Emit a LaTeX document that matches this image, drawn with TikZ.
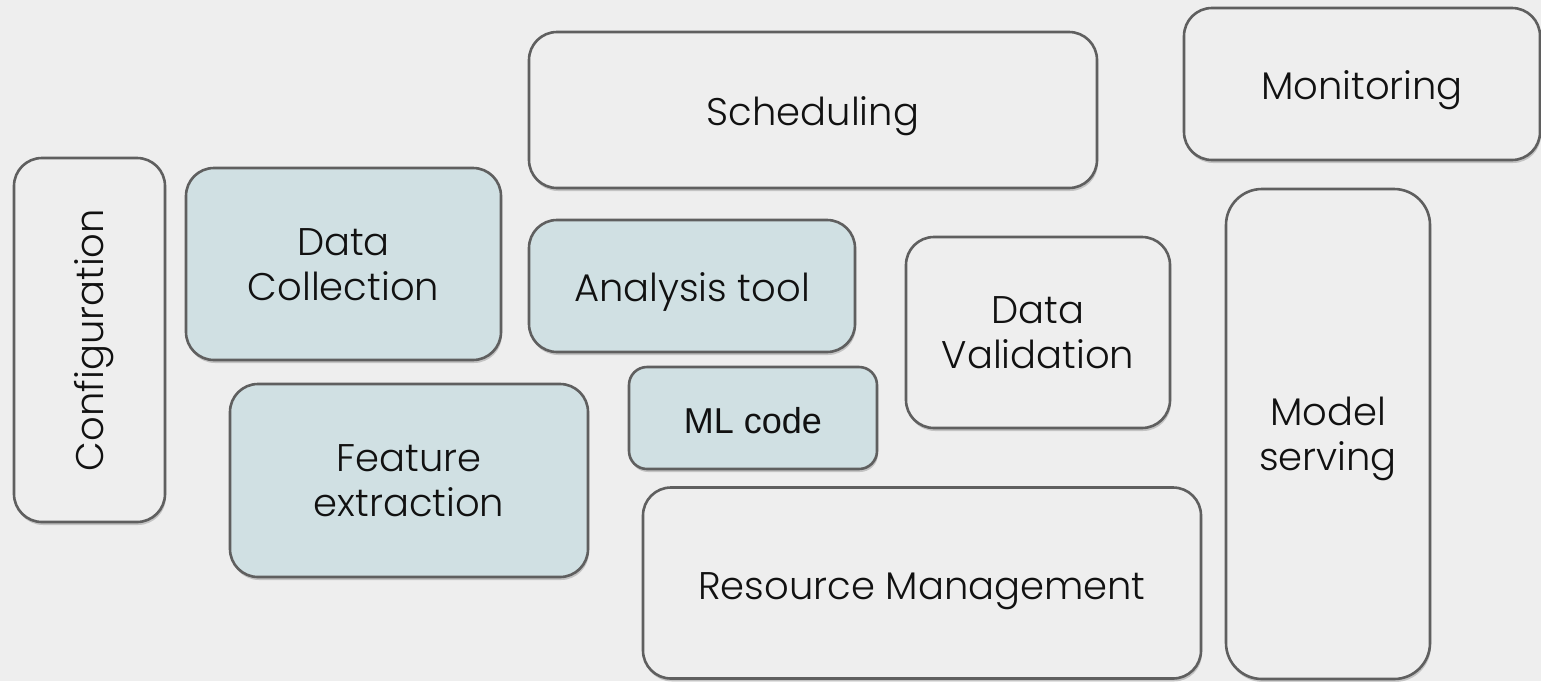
\documentclass[tikz,border=0pt]{standalone}
\usepackage{fontspec}
\setmainfont{Poppins}[UprightFont=* Light]
\newfontfamily\arialfont{Liberation Sans}
\usetikzlibrary{shadows}
\definecolor{bg}{HTML}{EEEEEE}
\definecolor{edge}{HTML}{5F5F5F}
\definecolor{blu}{HTML}{D0E0E3}
\definecolor{ink}{HTML}{111111}
\newcommand{\twol}[2]{\begin{tabular}[b]{@{}c@{}}#1\\#2\end{tabular}}
\tikzset{
  box/.style={draw=edge, line width=2.6pt, rounded corners=28pt, fill=bg,
    inner sep=0pt,
    drop shadow={shadow xshift=1pt, shadow yshift=-3pt, opacity=0.18, fill=black}},
  bluebox/.style={box, fill=blu},
  lbl/.style={text=ink, inner sep=0pt, anchor=base, font=\fontsize{38.5}{45}\selectfont},
}
\begin{document}
\begin{tikzpicture}[x=1pt,y=-1pt]
\useasboundingbox[fill=bg] (0,0) rectangle (1541,681);
% boxes
\node[box, minimum width=568pt, minimum height=156pt] (sched) at (813,110) {};
\node[box, minimum width=356pt, minimum height=152pt] (mon) at (1362,84) {};
\node[box, minimum width=151pt, minimum height=364pt] (conf) at (89.5,340) {};
\node[bluebox, minimum width=315pt, minimum height=192pt] (dc) at (343.5,264) {};
\node[bluebox, minimum width=326pt, minimum height=132pt] (at) at (692,286) {};
\node[box, minimum width=264pt, minimum height=191pt] (dv) at (1038,332.5) {};
\node[box, minimum width=204pt, minimum height=490pt, rounded corners=36pt] (ms) at (1328,434) {};
\node[bluebox, minimum width=358pt, minimum height=193pt] (fe) at (409,480.5) {};
\node[bluebox, minimum width=248pt, minimum height=102pt, rounded corners=18pt] (ml) at (753,418) {};
\node[box, minimum width=558pt, minimum height=191pt] (rm) at (922,583) {};
% labels
\node[lbl] (tsched) at ([yshift=-15pt]sched.center) {Scheduling};
\node[lbl] (tmon) at ([yshift=-15pt]mon.center) {Monitoring};
\node[lbl, rotate=90] (tconf) at ([xshift=14pt]conf.center) {Configuration};
\node[lbl] (tdc) at ([yshift=-36pt]dc.center) {\twol{Data}{Collection}};
\node[lbl] (tat) at ([yshift=-15pt]at.center) {Analysis tool};
\node[lbl] (tdv) at ([yshift=-36pt]dv.center) {\twol{Data}{Validation}};
\node[lbl] (tms) at ([yshift=-36pt]ms.center) {\twol{Model}{serving}};
\node[lbl] (tfe) at ([yshift=-36pt]fe.center) {\twol{Feature}{extraction}};
\node[lbl, font=\arialfont\fontsize{36}{40}\selectfont] (tml) at ([yshift=-15pt]ml.center) {ML code};
\node[lbl] (trm) at ([yshift=-16pt]rm.center) {Resource Management};
\end{tikzpicture}
\end{document}
